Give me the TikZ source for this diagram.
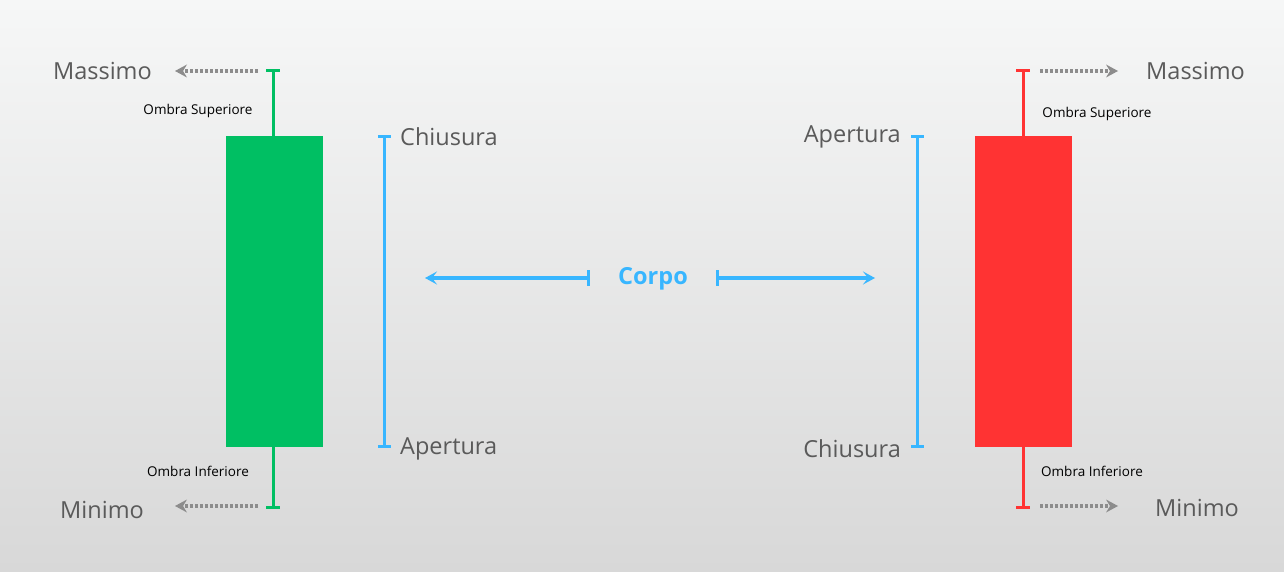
\documentclass[tikz,border=0pt]{standalone}
\usepackage{fontspec}
\setmainfont{Open Sans}
\usetikzlibrary{arrows.meta}
\definecolor{cgreen}{HTML}{00BF63}
\definecolor{cred}{HTML}{FF3333}
\definecolor{cblue}{HTML}{38B6FF}
\definecolor{ctext}{HTML}{5A5A5A}
\definecolor{cgray}{HTML}{8C8C8C}
\definecolor{bgtop}{HTML}{F6F7F7}
\definecolor{bgbot}{HTML}{D8D8D8}
\begin{document}
\begin{tikzpicture}[x=1pt,y=-1pt,
  big/.style={font=\fontsize{23.5}{28}\selectfont,text=ctext,inner sep=0pt},
  small/.style={font=\fontsize{13.5}{16}\selectfont,text=black,inner sep=0pt},
  wick/.style={line width=3pt},
  dotarr/.style={draw=cgray,line width=3.5pt,dash pattern=on 3pt off 2pt,-{Stealth[length=12pt,width=13pt,inset=4pt,line width=0pt]}},
  bluearr/.style={draw=cblue,line width=3.5pt,{Stealth[length=12pt,width=13pt,inset=5pt]}-}]
\shade[top color=bgtop,bottom color=bgbot] (0,0) rectangle (1284,572);
\useasboundingbox (0,0) rectangle (1284,572);
% green candle
\draw[cgreen,wick] (273,71) -- (273,507);
\draw[cgreen,wick] (266,71) -- (280,71); \draw[cgreen,wick] (266,507) -- (280,507);
\node[fill=cgreen,minimum width=97pt,minimum height=311pt,inner sep=0pt] (gbody) at (274.5,291.5) {};
% red candle
\draw[cred,wick] (1023,71) -- (1023,507);
\draw[cred,wick] (1016,71) -- (1030,71); \draw[cred,wick] (1016,507) -- (1030,507);
\node[fill=cred,minimum width=97pt,minimum height=311pt,inner sep=0pt] (rbody) at (1023.5,291.5) {};
% blue bars
\draw[cblue,wick] (384,137) -- (384,446) (378,137) -- (391,137) (378,446) -- (391,446);
\draw[cblue,wick] (917,137) -- (917,446) (911,137) -- (924,137) (911,446) -- (924,446);
% labels
\node[big,anchor=east] (m1) at (152,71) {Massimo};
\node[big,anchor=east] (n1) at (144,510) {Minimo};
\node[big,anchor=west] (m2) at (1146,71) {Massimo};
\node[big,anchor=west] (n2) at (1155,508) {Minimo};
\node[big,anchor=west] (c1) at (400,137) {Chiusura};
\node[big,anchor=west] (a1) at (400,449) {Apertura};
\node[big,anchor=east] (a2) at (901,137) {Apertura};
\node[big,anchor=east] (c2) at (901,449) {Chiusura};
\node[small] (os1) at (198,111) {Ombra Superiore};
\node[small] (oi1) at (198,471) {Ombra Inferiore};
\node[small] (os2) at (1097,114) {Ombra Superiore};
\node[small] (oi2) at (1092,471) {Ombra Inferiore};
\node[font=\bfseries\fontsize{23.5}{28}\selectfont,text=cblue,inner sep=0pt] (corpo) at (653,279) {Corpo};
% gray arrows
\draw[dotarr] (258,71) -- (175,71);
\draw[dotarr] (258,506) -- (175,506);
\draw[dotarr] (1040,71) -- (1118,71);
\draw[dotarr] (1040,506) -- (1118,506);
% blue arrows
\draw[bluearr] (425,278) -- (588,278);
\draw[cblue,line width=3pt] (588,270) -- (588,286);
\draw[bluearr] (875,278) -- (717,278);
\draw[cblue,line width=3pt] (717,270) -- (717,286);
\end{tikzpicture}
\end{document}
